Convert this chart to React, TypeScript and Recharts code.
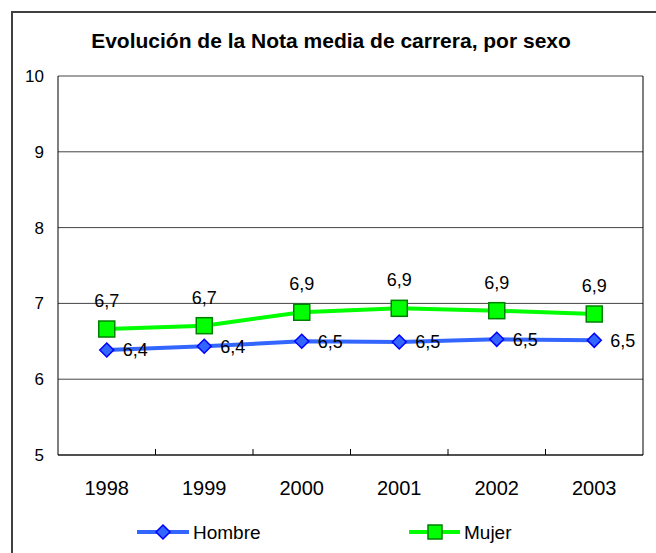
import React from 'react';
import { LineChart, Line, XAxis, YAxis, CartesianGrid, LabelList, Legend } from 'recharts';

const years = ['1998', '1999', '2000', '2001', '2002', '2003'];
const hombre = [6.385, 6.434, 6.5, 6.49, 6.526, 6.513];
const mujer = [6.662, 6.706, 6.883, 6.935, 6.904, 6.86];
const yTicks = [5, 6, 7, 8, 9, 10];

const FONT = '"Liberation Sans", Arial, sans-serif';
const BLUE = '#3366ff';
const BLUE_EDGE = '#0000ff';
const GREEN = '#00ff00';
const GREEN_EDGE = '#008000';
const X_MARGIN = 26;

const data = years.map((y, i) => ({ year: y, Hombre: hombre[i], Mujer: mujer[i] }));

const fmt = (v: any) => Number(v).toFixed(1).replace('.', ',');

const Diamond = ({ cx, cy, r = 7 }: any) => (
  <polygon
    points={`${cx},${cy - r} ${cx + r},${cy} ${cx},${cy + r} ${cx - r},${cy}`}
    fill={BLUE}
    stroke={BLUE_EDGE}
    strokeWidth={1.5}
  />
);

const Square = ({ cx, cy, r = 8 }: any) => (
  <rect x={cx - r} y={cy - r} width={r * 2} height={r * 2} fill={GREEN} stroke={GREEN_EDGE} strokeWidth={1.5} />
);

// year label plus a small tick mark on the boundary left of each category (except the first)
const YearTick = ({ x, y, payload, index }: any) => {
  const half = payload?.offset || 0;
  const base = y - X_MARGIN;
  return (
    <g>
      {index > 0 && <line x1={x - half} x2={x - half} y1={base} y2={base - 6} stroke="#000" />}
      <text x={x} y={y} dy="0.71em" textAnchor="middle" fontSize={20} fontFamily={FONT} fill="#000">
        {payload.value}
      </text>
    </g>
  );
};

const LegendContent = () => (
  <svg width={656} height={30}>
    <g>
      <line x1={137} x2={189} y1={15} y2={15} stroke={BLUE} strokeWidth={4} />
      <Diamond cx={163} cy={15} r={7} />
      <text x={193} y={22} fontSize={19} fontFamily={FONT} fill="#000">Hombre</text>
    </g>
    <g>
      <line x1={409} x2={460} y1={15} y2={15} stroke={GREEN} strokeWidth={4} />
      <Square cx={435} cy={15} r={7} />
      <text x={464} y={22} fontSize={19} fontFamily={FONT} fill="#000">Mujer</text>
    </g>
  </svg>
);

export default function App() {
  return (
    <div style={{ position: 'absolute', left: 0, top: 0, width: 656, height: 553, background: '#fff', fontFamily: FONT }}>
      <div style={{ position: 'absolute', left: 11, top: 11, right: 0, bottom: 0, borderTop: '2px solid #404040', borderLeft: '2px solid #404040' }} />
      <div style={{ position: 'absolute', left: 0, top: 29, width: 662, textAlign: 'center', fontSize: 21, fontWeight: 'bold', color: '#000' }}>
        Evolución de la Nota media de carrera, por sexo
      </div>
      <LineChart width={656} height={553} data={data} margin={{ top: 76, right: 13, bottom: 40, left: 8 }}>
        <CartesianGrid horizontal vertical={false} stroke="#444" strokeWidth={1} />
        <XAxis
          dataKey="year"
          scale="band"
          axisLine={{ stroke: '#000' }}
          tickLine={false}
          tickSize={0}
          tickMargin={X_MARGIN}
          height={58}
          interval={0}
          tick={<YearTick />}
        />
        <YAxis
          domain={[5, 10]}
          ticks={yTicks}
          width={50}
          axisLine={{ stroke: '#000' }}
          tickLine={false}
          tickMargin={8}
          tick={{ fontSize: 17, fill: '#000', fontFamily: FONT }}
        />
        <YAxis yAxisId="right" orientation="right" mirror domain={[5, 10]} tick={false} tickLine={false} axisLine={{ stroke: '#000' }} />
        <Legend
          layout="horizontal"
          verticalAlign="middle"
          align="center"
          wrapperStyle={{ top: 517, left: 0, width: 656 }}
          content={<LegendContent />}
        />
        <Line
          dataKey="Hombre"
          stroke={BLUE}
          strokeWidth={4}
          dot={(p: any) => <Diamond key={`h${p.index}`} cx={p.cx} cy={p.cy} />}
          isAnimationActive={false}
        >
          <LabelList dataKey="Hombre" position="right" offset={16} formatter={fmt} style={{ fontSize: 18, fill: '#000', fontFamily: FONT }} />
        </Line>
        <Line
          dataKey="Mujer"
          stroke={GREEN}
          strokeWidth={4}
          dot={(p: any) => <Square key={`m${p.index}`} cx={p.cx} cy={p.cy} />}
          isAnimationActive={false}
        >
          <LabelList dataKey="Mujer" position="top" offset={22} formatter={fmt} style={{ fontSize: 18, fill: '#000', fontFamily: FONT }} />
        </Line>
      </LineChart>
    </div>
  );
}
